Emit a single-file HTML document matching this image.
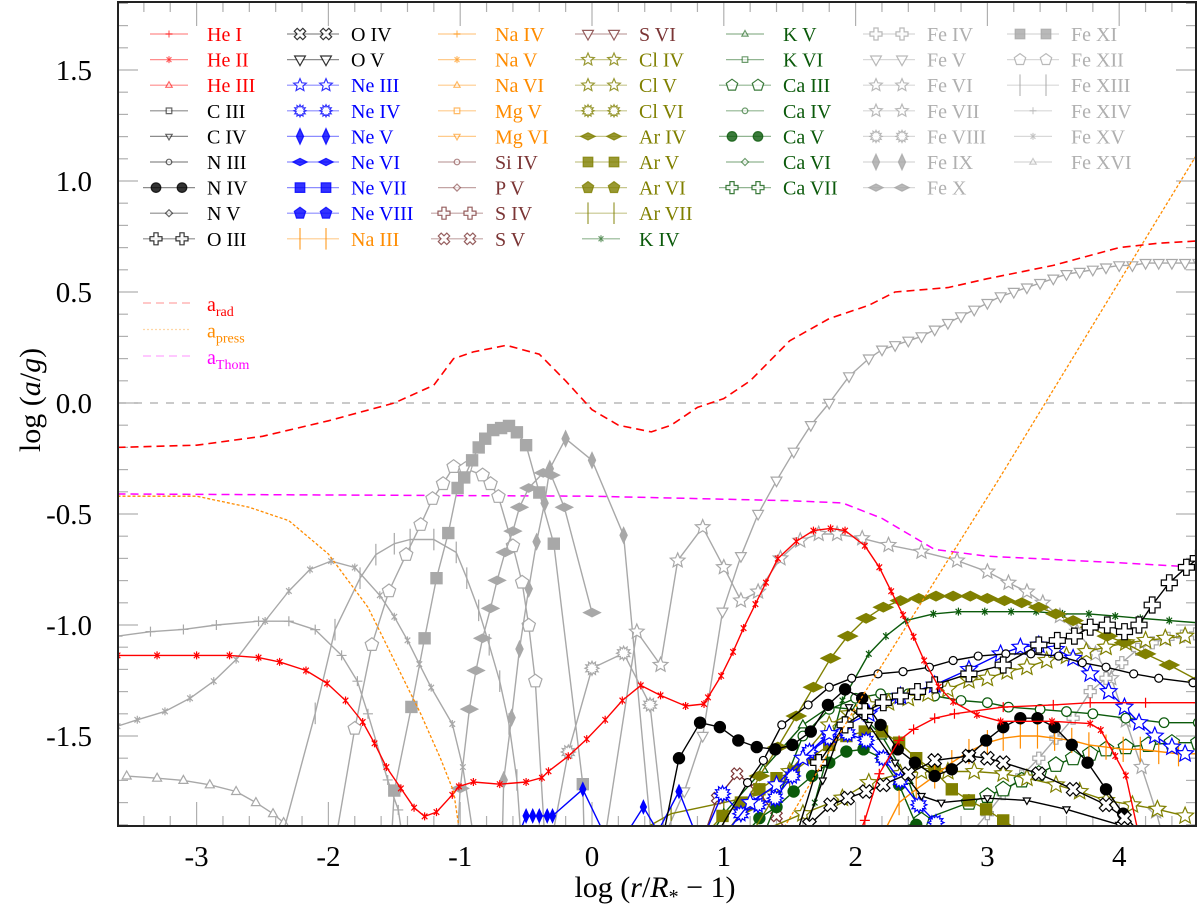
<!DOCTYPE html>
<html><head><meta charset="utf-8"><style>
html,body{margin:0;padding:0;background:#fff}
svg{display:block;font-family:"Liberation Serif",serif}
</style></head><body>
<svg id="chart" width="1200" height="912" viewBox="0 0 1200 912" xmlns="http://www.w3.org/2000/svg">
<defs><clipPath id="pc"><rect x="118" y="2" width="1078" height="824"/></clipPath></defs>
<g id="ticks"></g>
<line x1="118" y1="403" x2="1196" y2="403" stroke="#aaa" stroke-width="1.2" stroke-dasharray="8,8"/>
<g id="series" clip-path="url(#pc)"></g>
<g id="legend"></g>
<rect x="118" y="2" width="1078" height="824" fill="none" stroke="#222" stroke-width="2"/>
<g id="labels"></g>
<text x="655" y="897" font-size="30" text-anchor="middle">log (<tspan font-style="italic">r</tspan>/<tspan font-style="italic">R</tspan><tspan font-size="20" dy="6">*</tspan><tspan dy="-6"> − 1)</tspan></text>
<text transform="translate(40,400) rotate(-90)" font-size="30" text-anchor="middle">log (<tspan font-style="italic">a</tspan>/<tspan font-style="italic">g</tspan>)</text>
</svg>
<script>
const xTicks=[-3,-2,-1,0,1,2,3,4];
const yTicks=[-1.5,-1.0,-0.5,0.0,0.5,1.0,1.5];
const yTickLabels=["-1.5","-1.0","-0.5","0.0","0.5","1.0","1.5"];

const aRad=[[-3.6,-0.2],[-3,-0.19],[-2.5,-0.15],[-2,-0.08],[-1.5,0.0],[-1.2,0.08],[-1.05,0.2],[-0.9,0.23],[-0.65,0.26],[-0.4,0.22],[-0.2,0.1],[0,-0.03],[0.2,-0.1],[0.45,-0.13],[0.6,-0.1],[0.8,-0.02],[1.0,0.02],[1.2,0.1],[1.5,0.28],[1.8,0.38],[2.1,0.44],[2.3,0.5],[2.7,0.52],[3.0,0.56],[3.5,0.62],[4.0,0.7],[4.3,0.72],[4.6,0.73]];
const aPress=[[-3.6,-0.42],[-3.0,-0.42],[-2.6,-0.47],[-2.3,-0.53],[-2.0,-0.68],[-1.7,-0.92],[-1.5,-1.16],[-1.3,-1.4],[-1.15,-1.6],[-1.05,-1.75],[-1.0,-1.95],[null,null],[1.42,-1.95],[2.0,-1.37],[3.08,-0.35],[4.6,1.13]];
const aThom=[[-3.6,-0.41],[0,-0.42],[1.5,-0.44],[1.9,-0.45],[2.2,-0.52],[2.6,-0.66],[3.0,-0.69],[4.0,-0.72],[4.6,-0.74]];

const heI=[[2.02,-1.95],[2.07,-1.88],[2.18,-1.67],[2.33,-1.52],[2.44,-1.47],[2.6,-1.42],[2.75,-1.4],[3.12,-1.37],[3.5,-1.36],[3.78,-1.35],[4.2,-1.35],[4.6,-1.35]];
const heII=[[-3.6,-1.137],[-3.3,-1.137],[-3.0,-1.137],[-2.75,-1.137],[-2.53,-1.147],[-2.37,-1.166],[-2.17,-1.205],[-2.01,-1.263],[-1.87,-1.34],[-1.74,-1.437],[-1.65,-1.533],[-1.56,-1.64],[-1.45,-1.736],[-1.35,-1.823],[-1.27,-1.862],[-1.18,-1.843],[-1.06,-1.765],[-1.01,-1.727],[-0.9,-1.707],[-0.7,-1.717],[-0.5,-1.707],[-0.38,-1.688],[-0.33,-1.659],[-0.18,-1.591],[-0.04,-1.514],[0.1,-1.427],[0.23,-1.34],[0.37,-1.272],[0.52,-1.317],[0.71,-1.365],[0.85,-1.356],[0.88,-1.326],[0.98,-1.229],[1.07,-1.121],[1.15,-1.014],[1.24,-0.906],[1.32,-0.809],[1.41,-0.701],[1.55,-0.623],[1.68,-0.575],[1.81,-0.565],[1.92,-0.575],[2.07,-0.643],[2.18,-0.74],[2.27,-0.848],[2.36,-0.955],[2.44,-1.053],[2.52,-1.16],[2.63,-1.278],[2.74,-1.346],[2.92,-1.405],[3.1,-1.434],[3.49,-1.434],[3.78,-1.444],[3.86,-1.473],[3.97,-1.59],[4.05,-1.678],[4.15,-1.95]];
const oIII=[[1.55,-1.95],[1.72,-1.62],[1.92,-1.45],[2.07,-1.39],[2.21,-1.35],[2.34,-1.32],[2.47,-1.3],[2.6,-1.27],[2.86,-1.22],[3.12,-1.18],[3.39,-1.09],[3.53,-1.07],[3.66,-1.05],[3.78,-1.01],[3.91,-1.0],[4.04,-1.03],[4.15,-1.0],[4.25,-0.91],[4.38,-0.81],[4.51,-0.74],[4.6,-0.7]];
const oIV=[[1.65,-1.9],[1.81,-1.81],[1.94,-1.78],[2.08,-1.75],[2.21,-1.72],[2.4,-1.67],[2.6,-1.61],[2.86,-1.59],[3.0,-1.6],[3.12,-1.62],[3.39,-1.67],[3.65,-1.74],[3.9,-1.81],[4.04,-1.87],[4.12,-1.95]];
const nIII=[[0.94,-1.95],[1.18,-1.71],[1.3,-1.61],[1.44,-1.45],[1.64,-1.36],[1.8,-1.28],[1.97,-1.24],[2.17,-1.22],[2.36,-1.21],[2.56,-1.19],[2.74,-1.16],[2.93,-1.14],[3.14,-1.13],[3.33,-1.13],[3.54,-1.14],[3.72,-1.17],[3.9,-1.19],[4.11,-1.22],[4.3,-1.24],[4.56,-1.26]];
const nIV=[[0.54,-1.95],[0.66,-1.6],[0.82,-1.44],[0.97,-1.46],[1.11,-1.52],[1.25,-1.55],[1.39,-1.56],[1.52,-1.54],[1.66,-1.48],[1.79,-1.36],[1.92,-1.29],[2.05,-1.33],[2.19,-1.45],[2.32,-1.56],[2.45,-1.62],[2.6,-1.68],[2.73,-1.65],[2.86,-1.59],[2.99,-1.52],[3.12,-1.46],[3.25,-1.42],[3.38,-1.42],[3.51,-1.46],[3.64,-1.54],[3.76,-1.62],[3.9,-1.74],[4.03,-1.85],[4.13,-1.92],[4.25,-1.95]];
const cIV=[[1.6,-1.95],[1.75,-1.7],[1.95,-1.37],[2.1,-1.45],[2.3,-1.62],[2.5,-1.77],[2.65,-1.8],[3.0,-1.78],[3.3,-1.79],[3.6,-1.83],[4.0,-1.9],[4.2,-1.95]];
const neIII=[[1.0,-1.95],[1.2,-1.8],[1.4,-1.72],[1.6,-1.6],[1.8,-1.49],[2.1,-1.4],[2.34,-1.32],[2.6,-1.27],[2.86,-1.2],[3.1,-1.13],[3.25,-1.1],[3.39,-1.09],[3.52,-1.11],[3.65,-1.15],[3.78,-1.22],[3.92,-1.3],[4.04,-1.37],[4.15,-1.44],[4.27,-1.5],[4.4,-1.55],[4.5,-1.58]];
const neIV=[[0.85,-1.95],[0.99,-1.76],[1.13,-1.85],[1.26,-1.81],[1.39,-1.78],[1.52,-1.68],[1.65,-1.57],[1.8,-1.51],[1.94,-1.49],[2.08,-1.52],[2.21,-1.6],[2.34,-1.7],[2.48,-1.81],[2.61,-1.89],[2.7,-1.95]];
const neV=[[-0.56,-1.95],[-0.5,-1.86],[-0.45,-1.86],[-0.4,-1.86],[-0.34,-1.86],[-0.3,-1.86],[-0.07,-1.74],[0.1,-1.95],[null,null],[0.25,-1.95],[0.39,-1.82],[0.5,-1.93],[0.66,-1.75],[0.78,-1.93]];
const naIII=[[2.2,-1.95],[2.33,-1.8],[2.46,-1.74],[2.6,-1.68],[2.73,-1.62],[2.86,-1.57],[3.0,-1.53],[3.12,-1.51],[3.25,-1.5],[3.38,-1.5],[3.51,-1.51],[3.64,-1.52],[3.77,-1.54],[3.9,-1.55],[4.03,-1.56],[4.16,-1.56],[4.3,-1.57],[4.45,-1.58],[4.6,-1.58]];
const sV=[[0.85,-1.95],[0.95,-1.78],[1.1,-1.67],[1.25,-1.74],[1.4,-1.86],[1.5,-1.95]];
const clIV=[[1.2,-1.95],[1.5,-1.66],[1.8,-1.45],[1.95,-1.4],[2.1,-1.36],[2.25,-1.35],[2.4,-1.33],[2.55,-1.31],[2.7,-1.29],[2.86,-1.25],[3.0,-1.24],[3.15,-1.21],[3.3,-1.19],[3.45,-1.16],[3.6,-1.14],[3.75,-1.12],[3.9,-1.1],[4.05,-1.08],[4.2,-1.07],[4.35,-1.06],[4.5,-1.05]];
const clV=[[1.2,-1.95],[1.6,-1.85],[1.9,-1.78],[2.1,-1.71],[2.34,-1.67],[2.5,-1.66],[2.7,-1.66],[2.9,-1.66],[3.12,-1.67],[3.3,-1.69],[3.52,-1.72],[3.7,-1.75],[3.9,-1.79],[4.1,-1.81],[4.29,-1.83],[4.5,-1.86]];
const arIV=[[1.0,-1.95],[1.15,-1.83],[1.27,-1.68],[1.41,-1.55],[1.55,-1.41],[1.68,-1.28],[1.81,-1.15],[1.94,-1.05],[2.08,-0.97],[2.21,-0.92],[2.34,-0.89],[2.48,-0.88],[2.61,-0.87],[2.74,-0.87],[2.87,-0.87],[3.0,-0.88],[3.13,-0.89],[3.26,-0.9],[3.39,-0.92],[3.52,-0.95],[3.65,-0.98],[3.78,-1.01],[3.91,-1.05],[4.04,-1.08],[4.2,-1.13],[4.38,-1.18],[4.6,-1.25]];
const arV=[[0.85,-1.95],[0.99,-1.86],[1.13,-1.8],[1.27,-1.74],[1.4,-1.69],[1.53,-1.66],[1.66,-1.6],[1.8,-1.54],[1.93,-1.5],[2.07,-1.48],[2.2,-1.48],[2.33,-1.53],[2.46,-1.6],[2.6,-1.66],[2.73,-1.74],[2.86,-1.79],[2.99,-1.83],[3.12,-1.88],[3.25,-1.93]];
const arVII=[[0.3,-1.95],[0.6,-1.85],[1.0,-1.8],[1.3,-1.76],[1.5,-1.7]];
const kIV=[[1.6,-1.95],[1.69,-1.8],[1.9,-1.34],[2.1,-1.13],[2.23,-1.05],[2.38,-0.98],[2.59,-0.95],[2.78,-0.94],[2.98,-0.94],[3.18,-0.94],[3.37,-0.94],[3.57,-0.95],[3.77,-0.95],[3.97,-0.96],[4.16,-0.97],[4.38,-0.98],[4.6,-0.99]];
const kV=[[0.9,-1.95],[1.0,-1.85],[1.3,-1.65],[1.6,-1.45],[1.8,-1.37],[2.0,-1.38],[2.2,-1.5],[2.4,-1.7],[2.55,-1.95]];
const caIII=[[2.2,-1.95],[2.5,-1.88],[2.86,-1.8],[3.0,-1.77],[3.12,-1.74],[3.26,-1.7],[3.39,-1.67],[3.52,-1.63],[3.65,-1.6],[3.78,-1.58],[3.9,-1.56],[4.05,-1.55],[4.22,-1.54],[4.4,-1.53],[4.6,-1.53]];
const caIV=[[1.3,-1.95],[1.6,-1.5],[1.8,-1.38],[2.0,-1.33],[2.19,-1.31],[2.4,-1.31],[2.6,-1.32],[2.8,-1.34],[3.0,-1.35],[3.16,-1.37],[3.4,-1.38],[3.6,-1.39],[3.8,-1.4],[4.05,-1.42],[4.34,-1.44],[4.6,-1.44]];
const caV=[[1.15,-1.95],[1.27,-1.87],[1.4,-1.82],[1.53,-1.75],[1.67,-1.68],[1.8,-1.62],[1.93,-1.57],[2.06,-1.56],[2.2,-1.6],[2.33,-1.72],[2.46,-1.9],[2.5,-1.95]];
const feIV=[[2.86,-1.95],[3.0,-1.85],[3.12,-1.76],[3.26,-1.68],[3.39,-1.6],[3.52,-1.51],[3.65,-1.42],[3.78,-1.3],[3.9,-1.24],[4.02,-1.17],[4.14,-1.11],[4.25,-1.08],[4.37,-1.06],[4.48,-1.05],[4.58,-1.04]];
const feV=[[0.55,-1.95],[0.7,-1.75],[0.84,-1.5],[0.99,-0.94],[1.13,-0.69],[1.26,-0.5],[1.4,-0.35],[1.53,-0.22],[1.66,-0.1],[1.8,0.0],[1.95,0.12],[2.1,0.2],[2.2,0.24],[2.3,0.26],[2.4,0.28],[2.5,0.3],[2.6,0.33],[2.7,0.36],[2.8,0.39],[2.9,0.42],[3.0,0.45],[3.1,0.48],[3.2,0.5],[3.3,0.52],[3.4,0.54],[3.5,0.56],[3.6,0.58],[3.7,0.59],[3.8,0.6],[3.9,0.61],[4.0,0.62],[4.1,0.62],[4.2,0.63],[4.3,0.63],[4.4,0.63],[4.5,0.63],[4.6,0.63]];
const feVII=[[0.1,-1.95],[0.34,-1.03],[0.52,-1.18],[0.65,-0.71],[0.84,-0.56],[1.0,-0.74],[1.13,-0.89],[1.26,-0.85],[1.43,-0.7],[1.58,-0.62],[1.72,-0.59],[1.86,-0.59],[2.05,-0.61],[2.25,-0.64],[2.5,-0.67],[2.77,-0.71],[3.0,-0.76],[3.16,-0.81],[3.3,-0.85],[3.42,-0.9],[3.55,-0.96],[3.68,-1.03],[3.82,-1.13],[3.94,-1.24],[4.05,-1.43],[4.17,-1.64],[4.28,-1.84],[4.33,-1.95]];
const feVIII=[[-0.3,-1.95],[-0.18,-1.572],[0.0,-1.195],[0.24,-1.127],[0.44,-1.359],[0.55,-1.95]];
const feIX=[[-0.68,-1.95],[-0.67,-1.698],[-0.61,-1.417],[-0.55,-1.108],[-0.48,-0.837],[-0.42,-0.625],[-0.36,-0.451],[-0.32,-0.296],[-0.2,-0.161],[0.0,-0.258],[0.24,-0.596],[0.45,-1.95]];
const feX=[[-1.02,-1.95],[-1.0,-1.736],[-0.93,-1.379],[-0.88,-1.205],[-0.83,-1.06],[-0.77,-0.925],[-0.72,-0.799],[-0.66,-0.673],[-0.6,-0.577],[-0.55,-0.47],[-0.48,-0.383],[-0.37,-0.315],[-0.31,-0.325],[-0.21,-0.47],[0.0,-0.944]];
const feXI=[[-1.52,-1.95],[-1.5,-1.746],[-1.37,-1.369],[-1.27,-1.06],[-1.18,-0.789],[-1.09,-0.586],[-1.02,-0.383],[-0.97,-0.335],[-0.91,-0.258],[-0.86,-0.2],[-0.81,-0.161],[-0.75,-0.122],[-0.69,-0.113],[-0.63,-0.103],[-0.57,-0.132],[-0.5,-0.19],[-0.4,-0.403],[-0.29,-0.634],[-0.07,-1.717],[-0.06,-1.95]];
const feXII=[[-1.94,-1.95],[-1.8,-1.466],[-1.67,-1.089],[-1.54,-0.847],[-1.41,-0.683],[-1.3,-0.548],[-1.21,-0.431],[-1.13,-0.364],[-1.05,-0.287],[-0.96,-0.296],[-0.83,-0.325],[-0.77,-0.364],[-0.71,-0.422],[-0.6,-0.644],[-0.53,-0.808],[-0.48,-1.002],[-0.43,-1.253],[-0.36,-1.95]];
const feXIII=[[-2.35,-1.95],[-2.1,-1.398],[-1.95,-1.021],[-1.76,-0.789],[-1.64,-0.683],[-1.5,-0.634],[-1.38,-0.615],[-1.2,-0.615],[-1.03,-0.673],[-0.95,-0.789],[-0.86,-0.934],[-0.78,-1.089],[-0.7,-1.253],[-0.63,-1.446],[-0.57,-1.698],[-0.54,-1.95]];
const feXIV=[[-3.6,-1.05],[-3.35,-1.03],[-3.1,-1.02],[-2.85,-1.0],[-2.53,-0.983],[-2.3,-0.983],[-2.1,-1.021],[-1.9,-1.137],[-1.78,-1.253],[-1.7,-1.4],[-1.55,-1.698],[-1.47,-1.833],[-1.44,-1.95]];
const feXV=[[-3.6,-1.456],[-3.45,-1.427],[-3.24,-1.389],[-3.05,-1.33],[-2.87,-1.253],[-2.7,-1.156],[-2.48,-0.982],[-2.3,-0.847],[-2.14,-0.75],[-1.98,-0.712],[-1.8,-0.741],[-1.61,-0.866],[-1.5,-0.963],[-1.4,-1.069],[-1.31,-1.176],[-1.22,-1.282],[-1.06,-1.446],[-0.98,-1.64],[-0.9,-1.95]];
const feXVI=[[-3.53,-1.68],[-3.3,-1.69],[-3.1,-1.7],[-2.9,-1.72],[-2.7,-1.75],[-2.55,-1.8],[-2.42,-1.85],[-2.34,-1.89]];

const RED="#ff0000",BLK="#000000",BLU="#0000ff",ORG="#ff8c00",BRN="#7b3535",OLV="#808000",GRN="#0b5a0b",GRY="#a8a8a8";
const NS="http://www.w3.org/2000/svg";
const X=v=>592+131.8*v, Y=v=>403-222*v;
function el(tag,attrs,parent){const e=document.createElementNS(NS,tag);for(const k in attrs)e.setAttribute(k,attrs[k]);parent.appendChild(e);return e;}

function marker(g,type,cx,cy,s,col,fill,op){
  let f=fill?col:"#fff", sw=1.2;
  const poly=pts=>el("polygon",{points:pts.map(p=>(cx+p[0]).toFixed(1)+","+(cy+p[1]).toFixed(1)).join(" "),fill:f,stroke:col,"stroke-width":sw,"stroke-opacity":op,"fill-opacity":op},g);
  const star=(n,ro,ri,rot)=>{const p=[];for(let i=0;i<2*n;i++){const r=i%2?ri:ro,a=rot+Math.PI*i/n;p.push([r*Math.sin(a),-r*Math.cos(a)]);}return p;};
  switch(type){
    case"plus":el("path",{d:`M${cx-s},${cy}H${cx+s}M${cx},${cy-s}V${cy+s}`,stroke:col,"stroke-width":sw,"stroke-opacity":op},g);break;
    case"x":el("path",{d:`M${cx-s*.7},${cy-s*.7}L${cx+s*.7},${cy+s*.7}M${cx-s*.7},${cy+s*.7}L${cx+s*.7},${cy-s*.7}M${cx},${cy-s}V${cy+s}`,stroke:col,"stroke-width":sw,"stroke-opacity":op},g);break;
    case"vtick":el("path",{d:`M${cx},${cy-s*1.8}V${cy+s*1.8}`,stroke:col,"stroke-width":sw,"stroke-opacity":op},g);break;
    case"triU":poly([[0,-s],[s*.9,s*.6],[-s*.9,s*.6]]);break;
    case"triD":poly([[0,s],[s*.9,-s*.6],[-s*.9,-s*.6]]);break;
    case"circle":el("circle",{cx,cy,r:s*.8,fill:f,stroke:col,"stroke-width":sw,"stroke-opacity":op,"fill-opacity":op},g);break;
    case"square":poly([[-s*.8,-s*.8],[s*.8,-s*.8],[s*.8,s*.8],[-s*.8,s*.8]]);break;
    case"diaT":poly([[0,-s*1.3],[s*.6,0],[0,s*1.3],[-s*.6,0]]);break;
    case"diaF":poly([[0,-s*.6],[s*1.2,0],[0,s*.6],[-s*1.2,0]]);break;
    case"dia":poly([[0,-s],[s,0],[0,s],[-s,0]]);break;
    case"pent":poly(star(5,s,s,0).filter((p,i)=>i%2==0));break;
    case"star":poly(star(5,s*1.1,s*.5,0));break;
    case"sun":poly(star(12,s,s*.65,0));break;
    case"cross":{const a=s*.35;poly([[-a,-s],[a,-s],[a,-a],[s,-a],[s,a],[a,a],[a,s],[-a,s],[-a,a],[-s,a],[-s,-a],[-a,-a]]);break;}
    case"xcross":{const a=s*.35,p=[[-a,-s],[a,-s],[a,-a],[s,-a],[s,a],[a,a],[a,s],[-a,s],[-a,a],[-s,a],[-s,-a],[-a,-a]];const c=Math.SQRT1_2;poly(p.map(q=>[c*(q[0]-q[1]),c*(q[0]+q[1])]));break;}
  }
}

const tg=document.getElementById("ticks");
for(let v=-3.6;v<=4.6;v+=0.2){const r=Math.round(v*10)/10;const major=Math.abs(r-Math.round(r))<1e-6;const px=X(r);if(px<119||px>1195)continue;const L=major?24:10;
  const t1=el("line",{x1:px,y1:826,x2:px,y2:826-L,stroke:"#b0b0b0","stroke-width":1.2},tg);
  
  const t2=el("line",{x1:px,y1:2,x2:px,y2:2+L,stroke:"#b0b0b0","stroke-width":1.2},tg);
  }
for(let k=-19;k<=18;k++){const r=k/10;const major=k%5==0;const py=Y(r);if(py<3||py>825)continue;const L=major?20:10;
  const t1=el("line",{x1:118,y1:py,x2:118+L,y2:py,stroke:"#b0b0b0","stroke-width":1.2},tg);
  
  const t2=el("line",{x1:1196,y1:py,x2:1196-L,y2:py,stroke:"#b0b0b0","stroke-width":1.2},tg);
  }

const lg=document.getElementById("labels");
xTicks.forEach(v=>{const t=el("text",{x:X(v),y:866,"font-size":29,"text-anchor":"middle"},lg);t.textContent=String(v);
  });
yTicks.forEach((v,i)=>{const t=el("text",{x:92,y:Y(v)+10,"font-size":29,"text-anchor":"end"},lg);t.textContent=yTickLabels[i];
  });

const sg=document.getElementById("series");
function drawLine(data,col,dash,w,name){let d="",pen=false;data.forEach(p=>{if(p[0]===null){pen=false;return;}d+=(pen?"L":"M")+X(p[0]).toFixed(1)+","+Y(p[1]).toFixed(1);pen=true;});
  const e=el("path",{d,fill:"none",stroke:col,"stroke-width":w,"stroke-dasharray":dash||"none","stroke-linejoin":"round"},sg);
  }
function drawSeries(data,col,mk,s,fill,name){drawLine(data,col,null,1.4,name+"-line");
  const g=el("g",{},sg);
  data.forEach(p=>{if(p[0]===null)return;if(p[1]<-1.9)return;marker(g,mk,X(p[0]),Y(p[1]),s,col,fill,1);});}

drawLine(aThom,"#ff00ff","8,5",1.5,"a-thom-line");
drawSeries(feXVI,GRY,"triU",5,false,"fe-xvi");
drawSeries(feXV,GRY,"x",4,false,"fe-xv");
drawSeries(feXIV,GRY,"plus",5,false,"fe-xiv");
drawSeries(feXIII,GRY,"vtick",6,false,"fe-xiii");
drawSeries(feXII,GRY,"pent",7,false,"fe-xii");
drawSeries(feXI,GRY,"square",7,true,"fe-xi");
drawSeries(feX,GRY,"diaF",7,true,"fe-x");
drawSeries(feIX,GRY,"diaT",6,true,"fe-ix");
drawSeries(feVIII,GRY,"sun",7,false,"fe-viii");
drawSeries(feVII,GRY,"star",7,false,"fe-vii");
drawSeries(feV,GRY,"triD",6,false,"fe-v");
drawSeries(feIV,GRY,"cross",6,false,"fe-iv");
drawSeries(arVII,OLV,"vtick",4,false,"ar-vii");
drawSeries(sV,BRN,"xcross",6,false,"s-v");
drawSeries(neV,BLU,"diaT",5,true,"ne-v");
drawSeries(kV,GRN,"triU",5,false,"k-v");
drawSeries(caIII,GRN,"pent",8,false,"ca-iii");
drawSeries(caIV,GRN,"circle",6,false,"ca-iv");
drawSeries(caV,GRN,"circle",7,true,"ca-v");
drawSeries(kIV,GRN,"x",4,false,"k-iv");
drawSeries(clV,OLV,"star",8,false,"cl-v");
drawSeries(clIV,OLV,"star",8,false,"cl-iv");
drawSeries(arV,OLV,"square",7,true,"ar-v");
drawSeries(arIV,OLV,"diaF",8,true,"ar-iv");
drawSeries(naIII,ORG,"vtick",7,false,"na-iii");
drawSeries(neIV,BLU,"sun",8,false,"ne-iv");
drawSeries(neIII,BLU,"star",8,false,"ne-iii");
drawSeries(cIV,BLK,"triD",4,false,"c-iv");
drawSeries(nIII,BLK,"circle",5,false,"n-iii");
drawSeries(nIV,BLK,"circle",7,true,"n-iv");
drawSeries(oIV,BLK,"xcross",7,false,"o-iv");
drawSeries(oIII,BLK,"cross",8,false,"o-iii");
drawSeries(heI,RED,"plus",5,false,"he-i");
drawSeries(heII,RED,"x",4,false,"he-ii");
drawLine(aPress,ORG,"3,2",1.3,"a-press-line");
drawLine(aRad,RED,"8,5",1.6,"a-rad-line");

const legCols=[
 [["He I",RED,"plus",0],["He II",RED,"x",0],["He III",RED,"triU",0],["C III",BLK,"square",0],["C IV",BLK,"triD",0],["N III",BLK,"circle",0],["N IV",BLK,"circle",2],["N V",BLK,"dia",0],["O III",BLK,"cross",1]],
 [["O IV",BLK,"xcross",1],["O V",BLK,"triD",1],["Ne III",BLU,"star",1],["Ne IV",BLU,"sun",1],["Ne V",BLU,"diaT",2],["Ne VI",BLU,"diaF",2],["Ne VII",BLU,"square",2],["Ne VIII",BLU,"pent",2],["Na III",ORG,"vtick",1]],
 [["Na IV",ORG,"plus",0],["Na V",ORG,"x",0],["Na VI",ORG,"triU",0],["Mg V",ORG,"square",0],["Mg VI",ORG,"triD",0],["Si IV",BRN,"circle",0],["P V",BRN,"dia",0],["S IV",BRN,"cross",1],["S V",BRN,"xcross",1]],
 [["S VI",BRN,"triD",1],["Cl IV",OLV,"star",1],["Cl V",OLV,"star",1],["Cl VI",OLV,"sun",1],["Ar IV",OLV,"diaF",2],["Ar V",OLV,"square",2],["Ar VI",OLV,"pent",2],["Ar VII",OLV,"vtick",1],["K IV",GRN,"x",0]],
 [["K V",GRN,"triU",0],["K VI",GRN,"square",0],["Ca III",GRN,"pent",1],["Ca IV",GRN,"circle",0],["Ca V",GRN,"circle",2],["Ca VI",GRN,"dia",0],["Ca VII",GRN,"cross",1]],
 [["Fe IV",GRY,"cross",1],["Fe V",GRY,"triD",1],["Fe VI",GRY,"star",1],["Fe VII",GRY,"star",1],["Fe VIII",GRY,"sun",1],["Fe IX",GRY,"diaT",2],["Fe X",GRY,"diaF",2]],
 [["Fe XI",GRY,"square",2],["Fe XII",GRY,"pent",1],["Fe XIII",GRY,"vtick",1],["Fe XIV",GRY,"plus",0],["Fe XV",GRY,"x",0],["Fe XVI",GRY,"triU",0]]
];
const leg=document.getElementById("legend");
legCols.forEach((col,ci)=>{col.forEach((en,ri)=>{const cx=169+144*ci,cy=34+25.6*ri;
  const g=el("g",{},leg);
  const big=en[3]>0;const x1=big?cx-26:cx-19,x2=big?cx+26:cx+19;
  el("line",{x1,y1:cy,x2,y2:cy,stroke:en[1],"stroke-width":1.2,"stroke-opacity":0.45},g);
  const fill=en[3]==2, s=big?6:3.5;
  if(big){marker(g,en[2],cx-13,cy,s,en[1],fill,0.8);marker(g,en[2],cx+13,cy,s,en[1],fill,0.8);}
  else marker(g,en[2],cx,cy,s,en[1],false,0.6);
  const t=el("text",{x:207+144*ci,y:cy+7,"font-size":20,fill:en[1]===GRY?"#b0b0b0":en[1]},g);t.textContent=en[0];
});});
[["rad",RED,"8,5"],["press",ORG,"2,2"],["Thom","#ff00ff","8,5"]].forEach((a,i)=>{const cy=303+26.5*i;
  const g=el("g",{},leg);
  el("line",{x1:143,y1:cy,x2:190,y2:cy,stroke:a[1],"stroke-width":1.3,"stroke-opacity":0.35,"stroke-dasharray":a[2]},g);
  const t=el("text",{x:207,y:cy+8,"font-size":20,fill:a[1]},g);t.textContent="a";
  const s=el("tspan",{"font-size":14,dy:5},t);s.textContent=a[0];});
</script>
</body></html>
